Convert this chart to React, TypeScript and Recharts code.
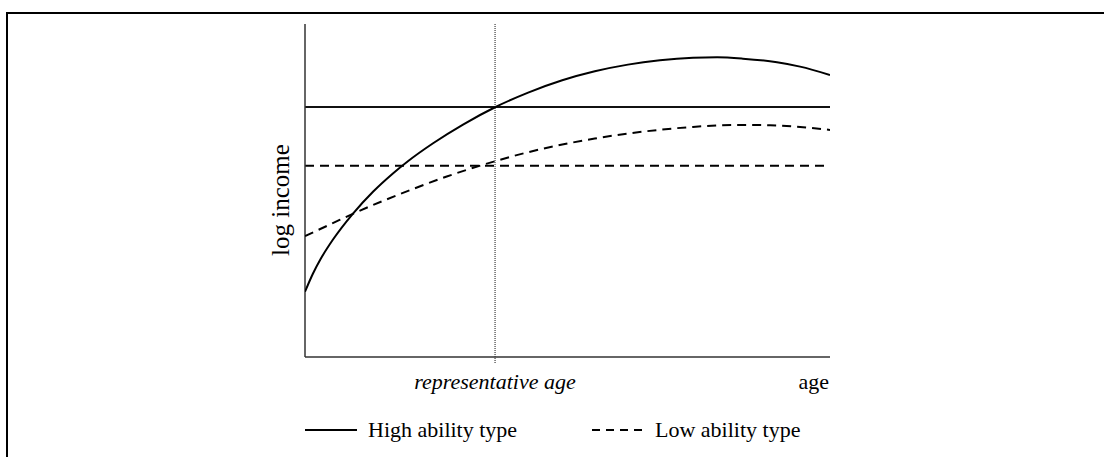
import React from "react";
import { LineChart, Line, XAxis, YAxis, ReferenceLine, Legend } from "recharts";

// Age axis runs 0..100 (arbitrary units), log income 0..100 (arbitrary units)
const highAges = [0, 1.5, 3.0, 5.3, 9.1, 13.0, 16.8, 19.6, 24.4, 30.1, 36.2, 42.5, 49.0, 55.2, 61.5, 67.6, 73.9, 78.5, 83.4, 89.9, 94.3, 100];
const highIncome = [19.6, 25.0, 29.5, 35.2, 43.0, 49.7, 55.2, 58.8, 64.2, 69.8, 75.0, 79.4, 83.1, 85.8, 87.8, 89.1, 89.85, 90.0, 89.6, 88.5, 87.2, 84.7];

const lowAges = [0, 5.3, 9.1, 14.9, 20.0, 27.0, 36.2, 42.5, 49.0, 55.2, 61.5, 68.0, 73.9, 82.3, 88.6, 94.3, 100];
const lowIncome = [36.3, 40.2, 43.0, 46.9, 50.1, 54.2, 58.8, 61.5, 63.8, 65.6, 67.1, 68.3, 69.1, 69.7, 69.6, 69.1, 68.2];

const highPermanent = 75.1;
const lowPermanent = 57.4;
const representativeAge = 36.2;
const axisMin = 0;
const axisMax = 100;

const seriesNames = ["High ability type", "Low ability type"];
const axisLabels = { y: "log income", xMark: "representative age", x: "age" };

const highData = highAges.map((a, i) => ({ age: a, income: highIncome[i] }));
const lowData = lowAges.map((a, i) => ({ age: a, income: lowIncome[i] }));

const FONT = '"Liberation Serif", "Times New Roman", serif';

const legendItems = [
  { name: seriesNames[0], dash: undefined as string | undefined, left: 305 },
  { name: seriesNames[1], dash: "8 6", left: 592 },
];

const LegendContent = () => (
  <div style={{ position: "relative", width: 1104, height: 30 }}>
    {legendItems.map((it) => (
      <div
        key={it.name}
        style={{
          position: "absolute",
          left: it.left,
          top: 0,
          height: 30,
          display: "flex",
          alignItems: "center",
          fontFamily: FONT,
          fontSize: 22,
          color: "#000",
          whiteSpace: "nowrap",
        }}
      >
        <svg width={52} height={30} style={{ display: "block" }}>
          <line x1={0} y1={15} x2={52} y2={15} stroke="#000" strokeWidth={2} strokeDasharray={it.dash} />
        </svg>
        <span style={{ marginLeft: 11 }}>{it.name}</span>
      </div>
    ))}
  </div>
);

export default function App() {
  return (
    <div style={{ position: "absolute", left: 0, top: 0, width: 1104, height: 457, overflow: "hidden", background: "#fff" }}>
      <div
        style={{
          position: "absolute",
          left: 6,
          top: 12,
          width: 1200,
          height: 600,
          border: "2.5px solid #000",
          boxSizing: "border-box",
        }}
      />
      <div style={{ position: "absolute", left: 0, top: 0 }}>
        <LineChart width={1104} height={457} margin={{ top: 24, right: 274, bottom: 100, left: 305 }}>
          <XAxis type="number" dataKey="age" domain={[axisMin, axisMax]} allowDataOverflow hide />
          <YAxis type="number" domain={[axisMin, axisMax]} allowDataOverflow hide />
          <ReferenceLine
            segment={[
              { x: representativeAge, y: -1.8 },
              { x: representativeAge, y: axisMax },
            ]}
            ifOverflow="visible"
            stroke="#111"
            strokeWidth={1}
            strokeDasharray="1 1"
          />
          <ReferenceLine y={highPermanent} stroke="#111" strokeWidth={2} />
          <ReferenceLine y={lowPermanent} stroke="#000" strokeWidth={2} strokeDasharray="9 6" />
          <ReferenceLine
            segment={[
              { x: axisMin, y: axisMin },
              { x: axisMax, y: axisMin },
            ]}
            ifOverflow="visible"
            stroke="#333"
            strokeWidth={1.5}
          />
          <ReferenceLine
            segment={[
              { x: axisMin, y: axisMin },
              { x: axisMin, y: axisMax },
            ]}
            ifOverflow="visible"
            stroke="#333"
            strokeWidth={1.5}
          />
          <Line
            data={highData}
            dataKey="income"
            name={seriesNames[0]}
            type="monotone"
            stroke="#000"
            strokeWidth={2}
            dot={false}
            isAnimationActive={false}
          />
          <Line
            data={lowData}
            dataKey="income"
            name={seriesNames[1]}
            type="monotone"
            stroke="#000"
            strokeWidth={2}
            strokeDasharray="9 6"
            dot={false}
            isAnimationActive={false}
          />
          <Legend
            layout="horizontal"
            verticalAlign="middle"
            align="center"
            content={<LegendContent />}
            wrapperStyle={{ position: "absolute", left: 0, top: 415, width: 1104, height: 30 }}
          />
          <text
            x={289}
            y={200}
            transform="rotate(-90, 289, 200)"
            textAnchor="middle"
            fontFamily={FONT}
            fontSize={25}
            fill="#000"
          >
            {axisLabels.y}
          </text>
          <text x={495} y={389} textAnchor="middle" fontFamily={FONT} fontSize={22} fontStyle="italic" fill="#000">
            {axisLabels.xMark}
          </text>
          <text x={829} y={389} textAnchor="end" fontFamily={FONT} fontSize={22} fill="#000">
            {axisLabels.x}
          </text>
        </LineChart>
      </div>
    </div>
  );
}
